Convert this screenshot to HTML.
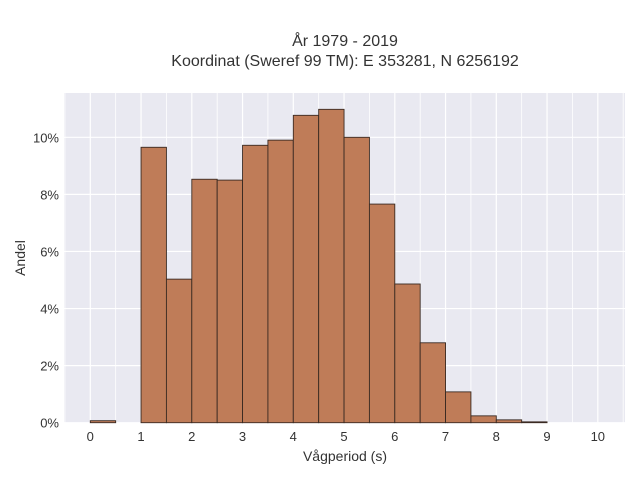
<!DOCTYPE html>
<html><head><meta charset="utf-8"><style>
body{margin:0;background:#fff;}
svg{display:block;font-family:"Liberation Sans",sans-serif;}
</style></head><body>
<svg id="c" width="640" height="480">
<text x="345" y="46" text-anchor="middle" font-size="16" fill="#333">År 1979 - 2019</text>
<text x="345" y="66" text-anchor="middle" font-size="16" fill="#333">Koordinat (Sweref 99 TM): E 353281, N 6256192</text>
<rect x="64" y="93" width="561" height="330" fill="#e9e9f1"/>
<g id="grid"></g><g id="bars"></g><g id="ticks"></g>
<text x="345" y="461" text-anchor="middle" font-size="14" fill="#333">Vågperiod (s)</text>
<text transform="translate(25,258) rotate(-90)" text-anchor="middle" font-size="14" fill="#333">Andel</text>
</svg>
<script>
const binStarts=[0,0.5,1,1.5,2,2.5,3,3.5,4,4.5,5,5.5,6,6.5,7,7.5,8,8.5,9,9.5];
const shares=[0.07,0,9.65,5.03,8.53,8.5,9.72,9.9,10.77,10.98,10.0,7.66,4.86,2.8,1.08,0.24,0.1,0.03,0,0];
const xTicks=[0,1,2,3,4,5,6,7,8,9,10];
const yTicks=[0,2,4,6,8,10];
const binWidth=0.5;
const NS="http://www.w3.org/2000/svg";
const X=v=>90.3+v*50.75, Y=v=>422.7-v*28.54;
const grid=document.getElementById('grid'),bars=document.getElementById('bars'),ticks=document.getElementById('ticks');
function mk(tag,attrs,parent){const e=document.createElementNS(NS,tag);for(const k in attrs)e.setAttribute(k,attrs[k]);parent.appendChild(e);return e;}
for(let v=-0.5;v<=10.5;v+=0.5){if(X(v)<64||X(v)>625)continue;
const l=mk('line',{x1:X(v),x2:X(v),y1:93,y2:423,stroke:'#fff','stroke-width':v%1===0?1.2:0.8},grid);

}
yTicks.forEach(t=>{const l=mk('line',{x1:64,x2:625,y1:Y(t),y2:Y(t),stroke:'#fff','stroke-width':1.2},grid);


const tx=mk('text',{x:59,y:Y(t)+5,'text-anchor':'end','font-size':13,fill:'#333'},ticks);tx.textContent=t+'%';

});
xTicks.forEach(t=>{const tx=mk('text',{x:X(t),y:441,'text-anchor':'middle','font-size':13,fill:'#333'},ticks);tx.textContent=t;

});
binStarts.forEach((s,i)=>{const v=shares[i];if(v<=0)return;
const r=mk('rect',{x:X(s),y:Y(v),width:X(s+binWidth)-X(s),height:Y(0)-Y(v),fill:'#bf7c58',stroke:'#3a2a22','stroke-width':0.9},bars);

});
</script>
</body></html>
